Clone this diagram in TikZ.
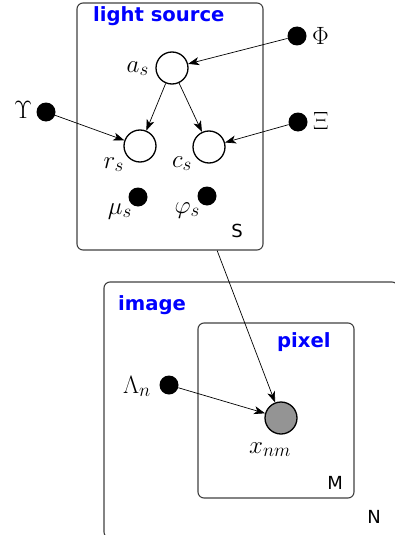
\RequirePackage{fix-cm}
\documentclass[tikz,border=0pt]{standalone}
\usepackage{fontspec}
\newfontfamily\labfont{DejaVu Sans}
\usetikzlibrary{arrows.meta}
\DeclareMathSizes{25}{25}{19}{14}
\begin{document}
\begin{tikzpicture}[x=1pt,y=-1pt,
 plate/.style={draw=black!75, line width=1.1pt, rounded corners=6pt, inner sep=0pt},
 lat/.style={circle, draw=black, line width=1.3pt, fill=white, minimum size=32pt, inner sep=0pt},
 obs/.style={lat, fill=black!42},
 hyp/.style={circle, fill=black, minimum size=19pt, inner sep=0pt},
 edge/.style={-{Stealth[length=11pt,width=8pt,inset=3pt]}, line width=0.7pt},
 ptitle/.style={font=\labfont\bfseries\fontsize{19.6}{22}\selectfont, text=blue, inner sep=0pt},
 pidx/.style={font=\labfont\fontsize{18}{20}\selectfont, inner sep=0pt},
 mlab/.style={font=\fontsize{25}{29}\selectfont, inner sep=0pt}
]
\useasboundingbox (0,0) rectangle (395,535);
% plates
\node[plate, minimum width=186pt, minimum height=247pt] (ls) at (170,126.5) {};
\node[plate, minimum width=294pt, minimum height=256pt] (img) at (251,410) {};
\node[plate, minimum width=156pt, minimum height=175pt] (pix) at (276,410.5) {};
\node[ptitle, anchor=base west] (lst) at (93,22) {light source};
\node[ptitle, anchor=base west] (imgt) at (118,310) {image};
\node[ptitle, anchor=base west] (pixt) at (277,347) {pixel};
\node[pidx, anchor=base east] (S) at (243,237) {S};
\node[pidx, anchor=base east] (M) at (343,489) {M};
\node[pidx, anchor=base east] (N) at (381,523) {N};
% variables
\node[lat] (a) at (172,68) {};
\node[lat] (r) at (140,146) {};
\node[lat] (c) at (209,147) {};
\node[hyp] (mu) at (138,197) {};
\node[hyp] (vp) at (207,196) {};
\node[hyp] (Ups) at (46,112) {};
\node[hyp] (Xi) at (298,122) {};
\node[hyp] (Phi) at (297,36) {};
\node[hyp] (Lam) at (169,385) {};
\node[obs] (x) at (281,418) {};
% labels
\node[mlab, anchor=base east] (al) at (149,72) {$a_s$};
\node[mlab, anchor=base east] (rl) at (124,168) {$r_s$};
\node[mlab, anchor=base east] (cl) at (192,167) {$c_s$};
\node[mlab, anchor=base east] (mul) at (132,214) {$\mu_s$};
\node[mlab, anchor=base east] (vpl) at (200,213) {$\varphi_s$};
\node[mlab, anchor=base west] (Upsl) at (14,118) {$\Upsilon$};
\node[mlab, anchor=base west] (Xil) at (313,129) {$\Xi$};
\node[mlab, anchor=base west] (Phil) at (312,45) {$\Phi$};
\node[mlab, anchor=base west] (Laml) at (123,393) {$\Lambda_n$};
\node[mlab, anchor=base west] (xl) at (249,453) {$x_{nm}$};
% edges
\draw[edge] (Phi) -- (a);
\draw[edge] (a) -- (r);
\draw[edge] (a) -- (c);
\draw[edge] (Ups) -- (r);
\draw[edge] (Xi) -- (c);
\draw[edge] (Lam) -- (x);
\draw[edge] (ls) -- (x);
\end{tikzpicture}
\end{document}
